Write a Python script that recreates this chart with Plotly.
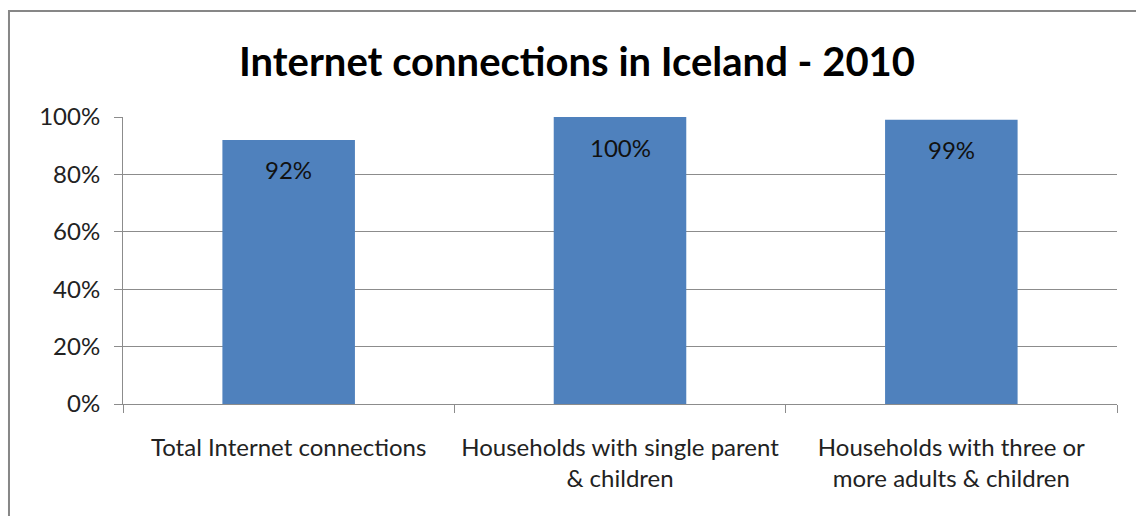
import plotly.graph_objects as go

categories = [
    "Total Internet connections",
    "Households with single parent<br>& children",
    "Households with three or<br>more adults & children",
]
shares = [92, 100, 99]
tick_vals = [0, 20, 40, 60, 80, 100]
tick_text = ["0%", "20%", "40%", "60%", "80%", "100%"]

FONT = "Lato, Calibri, 'Open Sans', sans-serif"
BAR = "#4F81BD"
GRID = "#8C8C8C"

fig = go.Figure()
fig.add_trace(go.Bar(
    x=categories,
    y=shares,
    width=0.4,
    marker=dict(color=BAR, line=dict(width=0)),
    hoverinfo="skip",
))

# value labels sit just inside the top of each bar
for cat, v in zip(categories, shares):
    fig.add_annotation(
        x=cat, y=v, text=f"{v}%", showarrow=False,
        yshift=-30, font=dict(family=FONT, size=24, color="#111111"),
    )

# chart frame
fig.add_shape(
    type="rect", xref="paper", yref="paper",
    x0=-0.1147, x1=1.1, y0=-0.6, y1=1.369,
    line=dict(color="#878787", width=2), fillcolor="rgba(0,0,0,0)",
    layer="above",
)

fig.update_layout(
    width=1136, height=516,
    margin=dict(l=123, r=19, t=117, b=112),
    paper_bgcolor="white", plot_bgcolor="white",
    showlegend=False,
    bargap=0.6,
    title=dict(
        text="<b>Internet connections in Iceland - 2010</b>",
        x=577 / 1136, xanchor="center", y=1 - 62 / 516, yanchor="middle",
        font=dict(family=FONT, size=40, color="black"),
    ),
    font=dict(family=FONT, size=24, color="#222222"),
)
fig.update_yaxes(
    range=[0, 100], tickvals=tick_vals, ticktext=tick_text,
    showgrid=True, gridcolor=GRID, gridwidth=1,
    showline=True, linecolor=GRID, linewidth=1,
    ticks="outside", ticklen=8, tickcolor=GRID,
    ticklabelstandoff=9, zeroline=False,
    tickfont=dict(family=FONT, size=24, color="#222222"),
)
fig.update_xaxes(
    showline=True, linecolor=GRID, linewidth=1,
    ticks="outside", ticklen=8, tickcolor=GRID, tickson="boundaries",
    ticklabelstandoff=22,
    tickfont=dict(family=FONT, size=24, color="#222222"),
)

fig.write_html("out.html")
